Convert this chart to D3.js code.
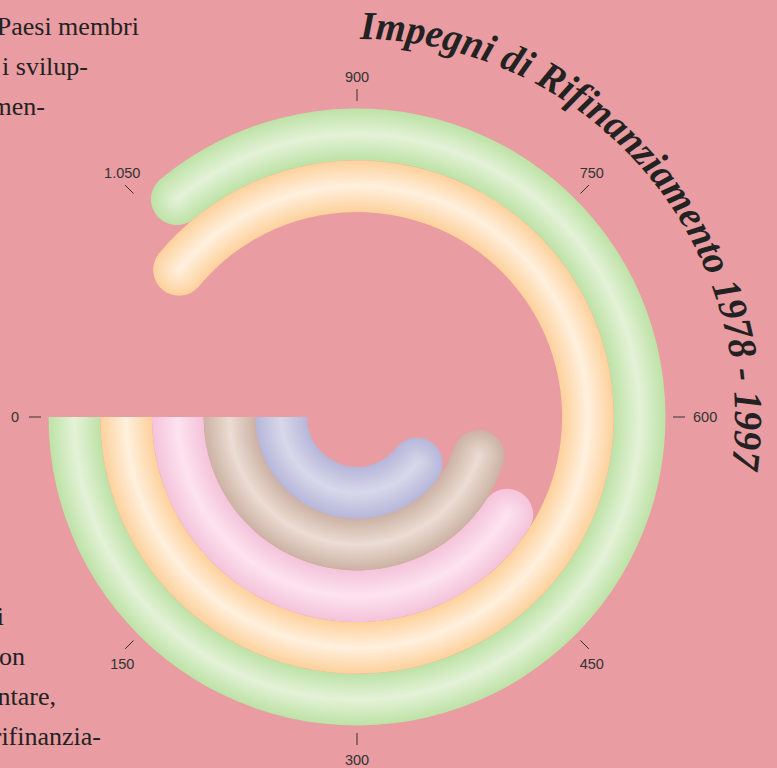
<!DOCTYPE html>
<html>
<head>
<meta charset="utf-8">
<script src="https://cdn.jsdelivr.net/npm/d3@7.9.0/dist/d3.min.js"></script>
<style>
  body { margin: 0; background: #e99ca1; }
  svg { display: block; }
</style>
</head>
<body>
<svg id="chart" width="777" height="768"></svg>
<script>
// --- Data ---
const categories = ["Serie 1", "Serie 2", "Serie 3", "Serie 4", "Serie 5"];
const values = [1032, 1068, 490, 541, 474];
const edgeColors = ["#bde2a6", "#fdd19c", "#f4c3da", "#cbb2a4", "#b6b6da"];
const midColors = ["#e4f2d8", "#fff0de", "#fde3ef", "#ecdcd3", "#d8d8ea"];
const tickValues = [0, 150, 300, 450, 600, 750, 900, 1050];
const title = "Impegni di Rifinanziamento 1978 - 1997";
const textTop = ["Paesi membri", "i svilup-", "men-"];
const textBottom = ["i", "on", "ntare,", "rifinanzia-"];

// --- Layout ---
const cx = 357, cy = 417;
const svg = d3.select("#chart");
const it = d3.formatLocale({ decimal: ",", thousands: ".", grouping: [3], currency: ["€", ""] });
const fmt = it.format(",");

// value -> angle (0 at left, running counter-clockwise, full turn = 1200)
const angle = d3.scaleLinear().domain([0, 1200]).range([1.5 * Math.PI, -0.5 * Math.PI]);
const radius = d3.scaleBand().domain(categories).range([308.5, 50]).padding(0);
const bw = radius.bandwidth();

svg.append("rect").attr("width", 777).attr("height", 768).attr("fill", "#e99ca1");

const defs = svg.append("defs");
const root = svg.append("g").attr("transform", `translate(${cx},${cy})`);

// gradients: across each band, and for each round end cap
categories.forEach((c, i) => {
  const r0 = radius(c), r1 = r0 + bw;
  const g = defs.append("radialGradient").attr("id", "band" + i)
    .attr("gradientUnits", "userSpaceOnUse").attr("cx", 0).attr("cy", 0).attr("r", r1);
  g.append("stop").attr("offset", r0 / r1).attr("stop-color", edgeColors[i]);
  g.append("stop").attr("offset", (r0 + bw * 0.5) / r1).attr("stop-color", midColors[i]);
  g.append("stop").attr("offset", 1).attr("stop-color", edgeColors[i]);

  const cg = defs.append("radialGradient").attr("id", "cap" + i)
    .attr("gradientUnits", "userSpaceOnUse").attr("cx", 0).attr("cy", 0).attr("r", bw / 2);
  cg.append("stop").attr("offset", 0).attr("stop-color", midColors[i]);
  cg.append("stop").attr("offset", 1).attr("stop-color", edgeColors[i]);
});

const bandArc = d3.arc();
const capArc = d3.arc().innerRadius(0).outerRadius(bw / 2);

categories.forEach((c, i) => {
  const r0 = radius(c), r1 = r0 + bw, rm = r0 + bw / 2;
  const a = angle(values[i]);
  // run the band a hair under the cap so no seam shows
  root.append("path")
    .attr("d", bandArc({ innerRadius: r0, outerRadius: r1, startAngle: angle(0), endAngle: a - 1.5 / rm }))
    .attr("fill", `url(#band${i})`);
  const x = rm * Math.sin(a), y = -rm * Math.cos(a);
  root.append("path")
    .attr("transform", `translate(${x},${y})`)
    .attr("d", capArc({ startAngle: a - Math.PI, endAngle: a }))
    .attr("fill", `url(#cap${i})`);
});

// --- Axis ticks ---
const ticks = root.append("g")
  .attr("font-family", "Liberation Sans, Arial, sans-serif").attr("font-size", 14.5).attr("fill", "#333");
tickValues.forEach(v => {
  const a = angle(v), s = Math.sin(a), k = Math.cos(a);
  ticks.append("line")
    .attr("x1", 316 * s).attr("y1", -316 * k)
    .attr("x2", 328 * s).attr("y2", -328 * k)
    .attr("stroke", "#333").attr("stroke-width", 1);
  const t = ticks.append("text").attr("dominant-baseline", "central").text(fmt(v));
  if (Math.abs(k) < 0.1) {
    t.attr("text-anchor", s > 0 ? "start" : "end")
      .attr("x", 328 * s + (s > 0 ? 8 : -10)).attr("y", 0);
  } else {
    t.attr("text-anchor", "middle")
      .attr("x", 328 * s + 4 * s).attr("y", -328 * k + (k > 0 ? -12 : 15));
  }
});

// --- Curved title ---
const tr = 378;
const p = d3.path();
p.arc(0, 0, tr, -Math.PI / 2, Math.PI, false);
defs.append("path").attr("id", "titlePath").attr("d", p.toString())
  .attr("transform", `translate(${cx},${cy})`);
svg.append("text")
  .attr("font-family", "Liberation Serif, Times New Roman, serif")
  .attr("font-weight", "bold").attr("font-style", "italic")
  .attr("font-size", 40).attr("fill", "#222")
  .append("textPath").attr("href", "#titlePath")
  .attr("startOffset", 3)
  .attr("textLength", 642).attr("lengthAdjust", "spacingAndGlyphs")
  .text(title);

// --- Side text (cut by the left edge) ---
const side = svg.append("g")
  .attr("font-family", "Liberation Serif, Times New Roman, serif")
  .attr("font-size", 26).attr("fill", "#222").attr("text-anchor", "end");
const topEnds = [139, 88, 45];
textTop.forEach((t, i) => side.append("text").attr("x", topEnds[i]).attr("y", 35 + i * 40).text(t));
const botEnds = [4, 25, 56, 101];
textBottom.forEach((t, i) => side.append("text").attr("x", botEnds[i]).attr("y", 625 + i * 40).text(t));
</script>
</body>
</html>
